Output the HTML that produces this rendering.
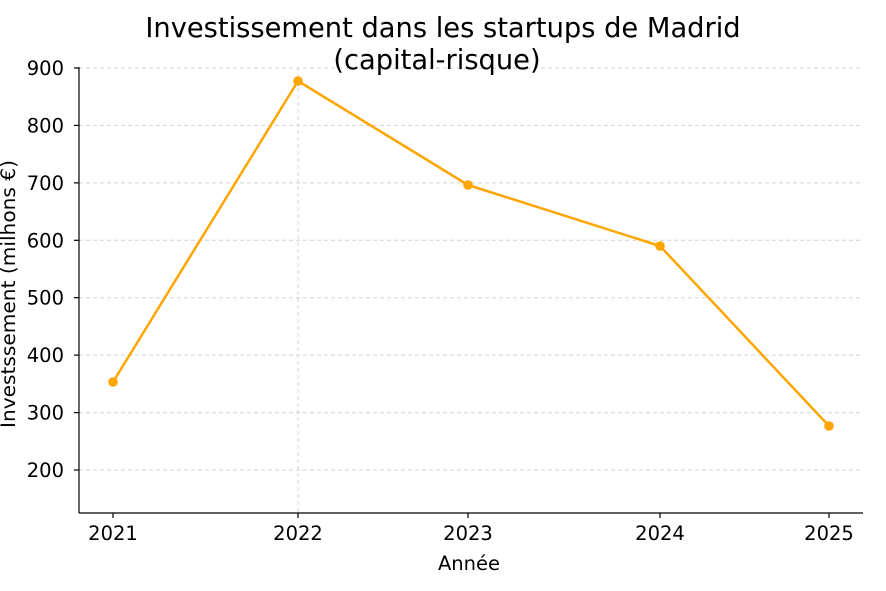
<!DOCTYPE html>
<html><head><meta charset="utf-8"><style>
html,body{margin:0;padding:0;background:#fff;}
svg{display:block;font-family:"DejaVu Sans","Liberation Sans",sans-serif;}
</style></head><body>
<svg width="886" height="591" viewBox="0 0 886 591" xmlns="http://www.w3.org/2000/svg">
<rect width="886" height="591" fill="#fff"/>
<g stroke="#d3d3d3" stroke-width="1" stroke-dasharray="4,3">
<line x1="79" x2="863" y1="68" y2="68"/>
<line x1="79" x2="863" y1="125.4" y2="125.4"/>
<line x1="79" x2="863" y1="182.9" y2="182.9"/>
<line x1="79" x2="863" y1="240.3" y2="240.3"/>
<line x1="79" x2="863" y1="297.7" y2="297.7"/>
<line x1="79" x2="863" y1="355.1" y2="355.1"/>
<line x1="79" x2="863" y1="412.6" y2="412.6"/>
<line x1="79" x2="863" y1="470" y2="470"/>
<line x1="298" x2="298" y1="67" y2="513"/>
</g>
<g stroke="#000" stroke-width="1.2">
<line x1="79" x2="79" y1="67" y2="513"/>
<line x1="79" x2="863" y1="513" y2="513"/>
<line x1="74" x2="79" y1="68" y2="68"/>
<line x1="74" x2="79" y1="125.4" y2="125.4"/>
<line x1="74" x2="79" y1="182.9" y2="182.9"/>
<line x1="74" x2="79" y1="240.3" y2="240.3"/>
<line x1="74" x2="79" y1="297.7" y2="297.7"/>
<line x1="74" x2="79" y1="355.1" y2="355.1"/>
<line x1="74" x2="79" y1="412.6" y2="412.6"/>
<line x1="74" x2="79" y1="470" y2="470"/>
<line x1="113" x2="113" y1="513" y2="518"/>
<line x1="298" x2="298" y1="513" y2="518"/>
<line x1="468" x2="468" y1="513" y2="518"/>
<line x1="660" x2="660" y1="513" y2="518"/>
<line x1="829" x2="829" y1="513" y2="518"/>
</g>
<g font-size="19.5" fill="#000" text-anchor="end">
<text x="64" y="75">900</text>
<text x="64" y="132.4">800</text>
<text x="64" y="189.9">700</text>
<text x="64" y="247.3">600</text>
<text x="64" y="304.7">500</text>
<text x="64" y="362.1">400</text>
<text x="64" y="419.6">300</text>
<text x="64" y="477">200</text>
</g>
<g font-size="19.5" fill="#000" text-anchor="middle">
<text x="113" y="540">2021</text>
<text x="298" y="540">2022</text>
<text x="468" y="540">2023</text>
<text x="660" y="540">2024</text>
<text x="829" y="540">2025</text>
<text x="469" y="570">Année</text>
<text x="443" y="37" font-size="27.3">Investissement dans les startups de Madrid</text>
<text x="437" y="69" font-size="27.3">(capital-risque)</text>
<text transform="translate(15,294) rotate(-90)" textLength="268" lengthAdjust="spacingAndGlyphs">Investssement (milhons €)</text>
</g>
<polyline points="113,382 298,81 468,185 660,246 829,426" fill="none" stroke="#ffa500" stroke-width="2.5" stroke-linejoin="round"/>
<g fill="#ffa500">
<circle cx="113" cy="382" r="4.8"/>
<circle cx="298" cy="81" r="4.8"/>
<circle cx="468" cy="185" r="4.8"/>
<circle cx="660" cy="246" r="4.8"/>
<circle cx="829" cy="426" r="4.8"/>
</g>
</svg>
</body></html>
